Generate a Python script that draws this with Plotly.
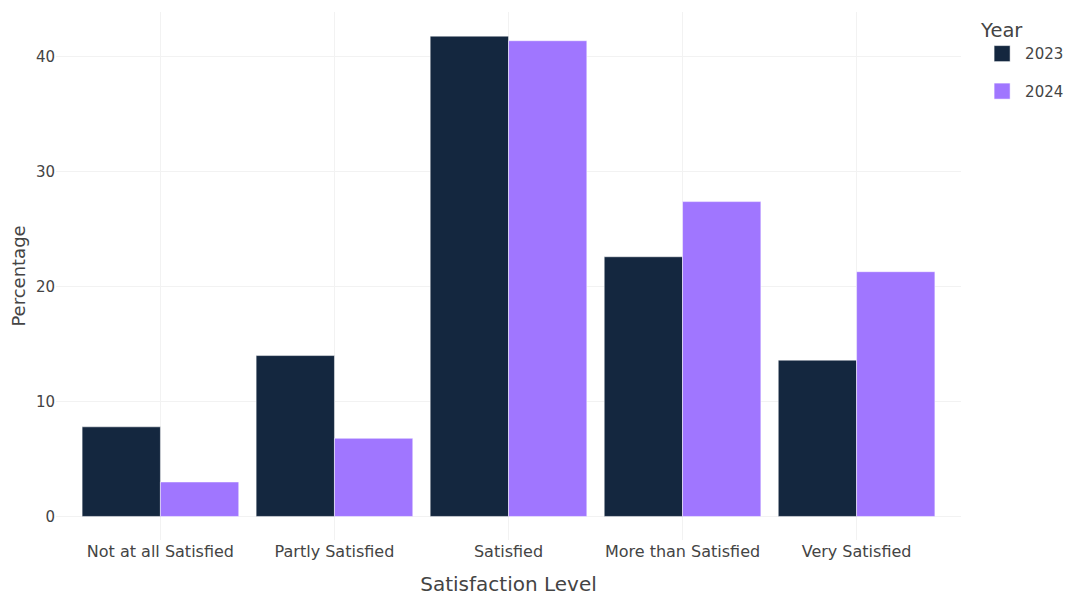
import plotly.graph_objects as go

categories = ["Not at all Satisfied", "Partly Satisfied", "Satisfied", "More than Satisfied", "Very Satisfied"]
values_2023 = [7.8, 14.0, 41.8, 22.6, 13.6]
values_2024 = [3.0, 6.8, 41.4, 27.4, 21.3]
years = ["2023", "2024"]
colors = ["#14273F", "#A076FF"]

fig = go.Figure()
for name, vals, col in zip(years, [values_2023, values_2024], colors):
    fig.add_trace(go.Bar(
        x=categories, y=vals, name=name, legendgroup=name, showlegend=False,
        marker=dict(color=col, line=dict(color="white", width=0.5)),
    ))
# legend entries with larger square swatches
for name, col in zip(years, colors):
    fig.add_trace(go.Scatter(
        x=[None], y=[None], mode="markers", name=name, legendgroup=name,
        marker=dict(symbol="square", size=16, color=col, line=dict(color="white", width=0.5)),
    ))

# page body adds an 8px offset, so the figure is sized to fit the window
fig.update_layout(
    width=1067, height=588,
    template="plotly_white",
    barmode="group", bargap=0.1, bargroupgap=0,
    margin=dict(l=48, r=114, t=4, b=56, autoexpand=False),
    font=dict(family="DejaVu Sans", size=15, color="#444"),
    legend=dict(title=dict(text="Year", font=dict(size=19.5)), font=dict(size=15),
                tracegroupgap=15, itemwidth=36),
    paper_bgcolor="white", plot_bgcolor="white",
)
fig.update_xaxes(
    title=dict(text="Satisfaction Level", font=dict(size=20), standoff=27),
    range=[-0.6, 4.6], showgrid=True, gridcolor="#f2f2f2", tickfont=dict(size=16),
    automargin=False,
)
fig.update_yaxes(
    title=dict(text="Percentage", font=dict(size=18)),
    range=[-2.05, 43.9], tickvals=[0, 10, 20, 30, 40], showgrid=True, gridcolor="#f2f2f2",
    zeroline=False, tickfont=dict(size=15), automargin=False,
)

fig.write_html("out.html")
